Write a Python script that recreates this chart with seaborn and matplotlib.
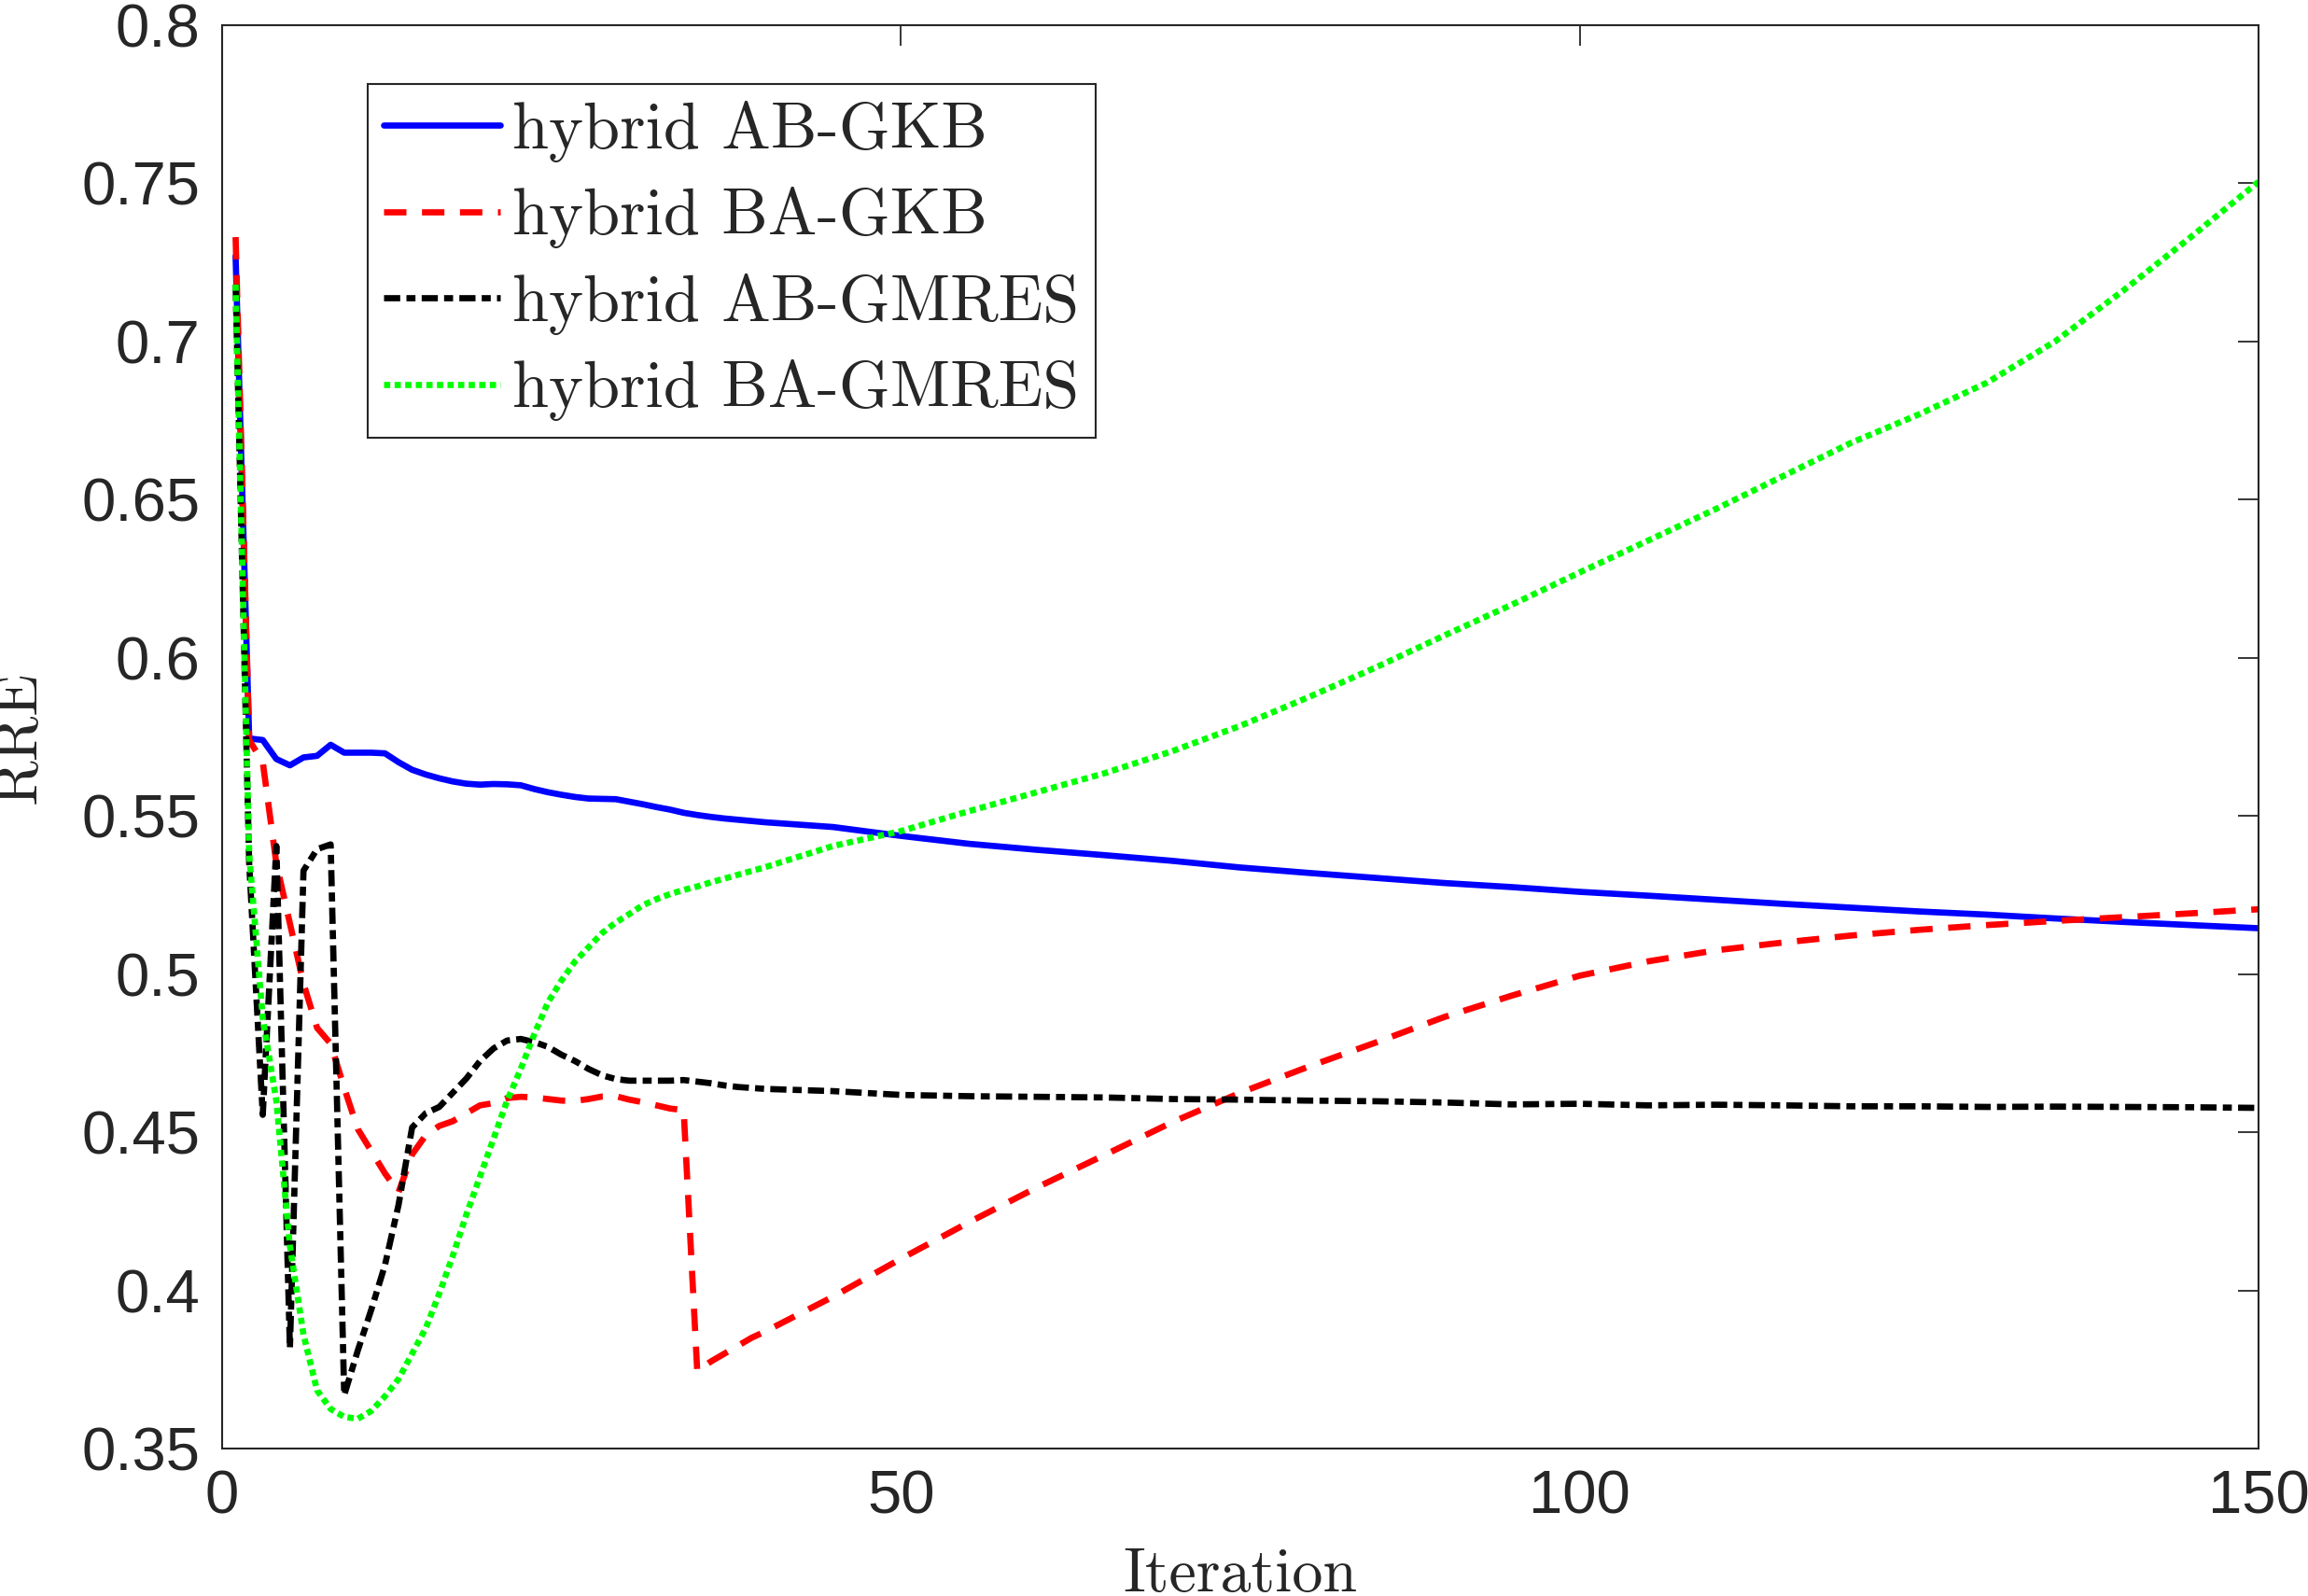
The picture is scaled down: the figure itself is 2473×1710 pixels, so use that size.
import matplotlib
matplotlib.use('Agg')
import matplotlib.pyplot as plt
import seaborn as sns
import pandas as pd
from matplotlib.ticker import FormatStrFormatter

# iteration numbers: every step up to 40, then every 5
iters = list(range(1, 41)) + list(range(45, 151, 5))

ab_gkb = [0.727, 0.5745, 0.574, 0.568, 0.566, 0.5685, 0.569, 0.5725, 0.570, 0.570,
          0.570, 0.5698, 0.567, 0.5646, 0.5631, 0.5619, 0.5609, 0.5602, 0.5599, 0.5601,
          0.5600, 0.5597, 0.5585, 0.5575, 0.5567, 0.556, 0.5555, 0.5554, 0.5553, 0.5545,
          0.5537, 0.5528, 0.552, 0.551, 0.5503, 0.5497, 0.5492, 0.5488, 0.5484, 0.548,
          0.5465, 0.5437, 0.5412, 0.5393, 0.5376, 0.5358, 0.5337, 0.532, 0.5304, 0.5288,
          0.5275, 0.526, 0.5248, 0.5235, 0.5222, 0.521, 0.5198, 0.5188, 0.5176, 0.5165,
          0.5155, 0.5145]

ba_gkb = [0.733, 0.574, 0.567, 0.535, 0.516, 0.497, 0.483, 0.478, 0.464, 0.451,
          0.444, 0.437, 0.431, 0.443, 0.449, 0.452, 0.4535, 0.456, 0.4585, 0.4592,
          0.4608, 0.4612, 0.461, 0.4605, 0.460, 0.4599, 0.4605, 0.4613, 0.4614, 0.4603,
          0.4595, 0.4585, 0.4575, 0.457, 0.3745, 0.3775, 0.3800, 0.3825, 0.3850, 0.3870,
          0.398, 0.410, 0.4215, 0.4325, 0.4428, 0.4532, 0.4625, 0.4707, 0.4784, 0.4864,
          0.4932, 0.4995, 0.504, 0.5075, 0.510, 0.5122, 0.514, 0.5155, 0.5168, 0.518,
          0.5192, 0.5205]

ab_gmres = [0.718, 0.535, 0.4555, 0.5405, 0.3817, 0.5327, 0.5395, 0.541, 0.3669, 0.381,
            0.394, 0.408, 0.427, 0.4515, 0.456, 0.458, 0.4625, 0.467, 0.4725, 0.4765,
            0.479, 0.4795, 0.4785, 0.477, 0.4745, 0.4725, 0.470, 0.468, 0.4668, 0.4663,
            0.4663, 0.4663, 0.4663, 0.4665, 0.466, 0.4655, 0.4648, 0.4643, 0.464, 0.4637,
            0.463, 0.4618, 0.4614, 0.4612, 0.461, 0.4605, 0.4603, 0.460, 0.4598, 0.4594,
            0.4588, 0.459, 0.4585, 0.4587, 0.4585, 0.4582, 0.4582, 0.458, 0.4581, 0.458,
            0.4579, 0.4577]

ba_gmres = [0.718, 0.538, 0.486, 0.460, 0.414, 0.386, 0.3684, 0.3625, 0.360, 0.3594,
            0.3619, 0.3665, 0.372, 0.380, 0.388, 0.399, 0.411, 0.424, 0.436, 0.448,
            0.460, 0.470, 0.481, 0.491, 0.498, 0.504, 0.5085, 0.513, 0.5163, 0.519,
            0.5218, 0.5237, 0.5253, 0.5266, 0.5277, 0.529, 0.5302, 0.5314, 0.5326, 0.5338,
            0.5405, 0.5452, 0.5515, 0.5575, 0.5635, 0.5705, 0.5785, 0.5875, 0.597, 0.607,
            0.6168, 0.627, 0.637, 0.647, 0.6575, 0.668, 0.677, 0.687, 0.700, 0.716,
            0.733, 0.7505]

labels = ['hybrid AB-GKB', 'hybrid BA-GKB', 'hybrid AB-GMRES', 'hybrid BA-GMRES']
colors = ['#0000ff', '#ff0000', '#000000', '#00ff00']
dashes = [None, (3.6, 2.5), (2.6, 1.0, 1.45, 1.0), (1.0, 0.7)]

y_ticks = [0.35, 0.4, 0.45, 0.5, 0.55, 0.6, 0.65, 0.7, 0.75, 0.8]
x_ticks = [0, 50, 100, 150]

sns.set_style('white')
plt.rcParams['font.family'] = ['Liberation Sans', 'DejaVu Sans']

fig = plt.figure(figsize=(24.73, 17.10), dpi=100)
ax = fig.add_axes([0.0962, 0.0924, 0.8824, 0.8918])

series = [ab_gkb, ba_gkb, ab_gmres, ba_gmres]
for vals, lab, col, dsh in zip(series, labels, colors, dashes):
    df = pd.DataFrame({'Iteration': iters, 'RRE': vals})
    sns.lineplot(data=df, x='Iteration', y='RRE', ax=ax, color=col,
                 linewidth=4.8, label=lab, errorbar=None, sort=False)
    line = ax.lines[-1]
    if dsh is not None:
        line.set_dashes(dsh)

ax.set_xlim(0, 150)
ax.set_ylim(0.35, 0.8)
ax.set_xticks(x_ticks)
ax.set_yticks(y_ticks)
ax.yaxis.set_major_formatter(FormatStrFormatter('%g'))
ax.tick_params(direction='in', length=16, width=1.3, colors='#262626',
               labelsize=47, top=True, right=True)
ax.tick_params(axis='x', pad=16)
ax.tick_params(axis='y', pad=17)
for s in ax.spines.values():
    s.set_linewidth(1.5)
    s.set_color('#262626')

ax.set_xlabel('Iteration', fontfamily='cmr10', fontsize=47.5, color='#262626')
ax.set_ylabel('RRE', fontfamily='cmr10', fontsize=47.5, color='#262626')
ax.xaxis.set_label_coords(0.5, -0.070)
ax.yaxis.set_label_coords(-0.086, 0.5)

leg = ax.legend(loc='upper left', bbox_to_anchor=(0.0715, 0.9587), borderaxespad=0,
                prop={'family': 'cmr10', 'size': 50.5}, handlelength=1.77,
                handletextpad=0.19, labelspacing=0.38, borderpad=0.25,
                fancybox=False, framealpha=1, edgecolor='#262626')
leg.get_frame().set_linewidth(1.5)
for t in leg.get_texts():
    t.set_color('#262626')

fig.savefig('out.png', dpi=100, facecolor='white')
